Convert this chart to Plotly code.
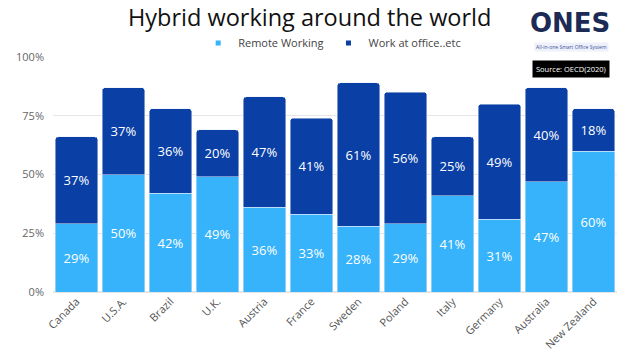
import plotly.graph_objects as go

countries = ["Canada", "U.S.A.", "Brazil", "U.K.", "Austria", "France", "Sweden",
             "Poland", "Italy", "Germany", "Australia", "New Zealand"]
remote = [29, 50, 42, 49, 36, 33, 28, 29, 41, 31, 47, 60]
office = [37, 37, 36, 20, 47, 41, 61, 56, 25, 49, 40, 18]
y_ticks = [0, 25, 50, 75, 100]
y_tick_labels = ["0%", "25%", "50%", "75%", "100%"]

FONT = "Open Sans"
LIGHT = "#36b3fb"
DARK = "#0a3fa6"

fig = go.Figure()
for name, vals, col in [("Remote Working", remote, LIGHT), ("Work at office..etc", office, DARK)]:
    fig.add_trace(go.Bar(
        x=countries, y=vals, name=name, marker_color=col, showlegend=False,
        text=[f"{v}%" for v in vals], textposition="inside", insidetextanchor="middle",
        textangle=0, textfont=dict(color="white", size=13, family=FONT),
        constraintext="none", hoverinfo="skip",
    ))
for name, col in [("Remote Working", LIGHT), ("Work at office..etc", DARK)]:
    fig.add_trace(go.Scatter(
        x=[None], y=[None], mode="markers", name=name,
        marker=dict(symbol="square", size=5, color=col), showlegend=True,
    ))

fig.update_layout(
    barmode="stack",
    bargap=0.1,
    barcornerradius=3,
    width=632, height=355,
    margin=dict(l=53, r=15, t=57, b=63, autoexpand=False),
    paper_bgcolor="white", plot_bgcolor="white",
    font=dict(family=FONT, color="#555555"),
    title=dict(text="Hybrid working around the world", x=0.49, xanchor="center",
               y=0.949, yanchor="middle", yref="container",
               font=dict(size=23.5, color="#111111", family=FONT)),
    legend=dict(orientation="h", x=0.495, xanchor="center", y=1.06, yanchor="middle",
                font=dict(size=11, color="#444444"), itemwidth=30,
                traceorder="normal", bgcolor="rgba(0,0,0,0)"),
    showlegend=True,
    xaxis=dict(tickangle=-45, tickfont=dict(size=11, color="#555555"),
               showgrid=False, showline=False, ticks=""),
    yaxis=dict(range=[0, 100], tickvals=y_ticks, ticktext=y_tick_labels,
               tickfont=dict(size=11, color="#666666"), gridcolor="#e6e6e6",
               zeroline=True, zerolinecolor="#e6e6e6", showline=False, ticks="",
               ticklabelstandoff=8),
)

fig.add_annotation(text="<b>ONES</b>", xref="paper", yref="paper", x=0.917, y=1.145,
                   xanchor="center", yanchor="middle", showarrow=False,
                   font=dict(size=26, color="#1c2a55", family="DejaVu Sans"))
fig.add_annotation(text="All-in-one Smart Office System", xref="paper", yref="paper",
                   x=0.92, y=1.043, xanchor="center", yanchor="middle", showarrow=False,
                   bgcolor="#eef1fa",
                   font=dict(size=5, color="#3b4f9a", family=FONT))
fig.add_annotation(text="Source: OECD(2020)", xref="paper", yref="paper", x=0.988, y=0.949,
                   xanchor="right", yanchor="middle", showarrow=False,
                   bgcolor="black", borderpad=3,
                   font=dict(size=7.5, color="white", family=FONT))

fig.write_html("out.html", config={"displayModeBar": False},
               post_script="document.body.style.margin='0';")
